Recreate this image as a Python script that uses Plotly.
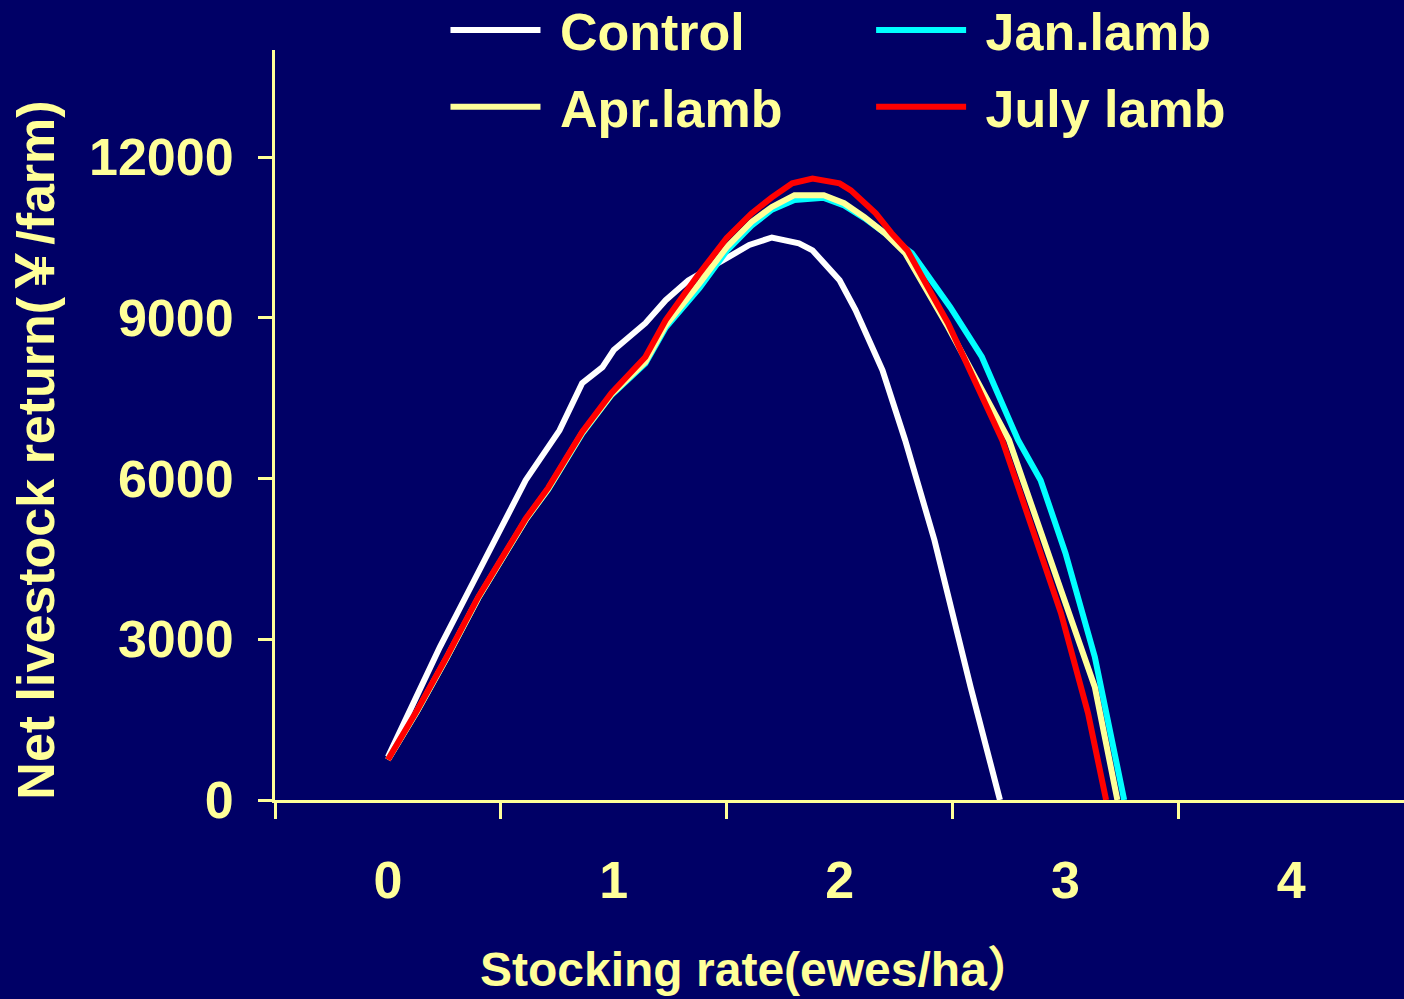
import plotly.graph_objects as go

# Net livestock return against stocking rate for four lambing systems
control_x = [0.00, 0.11, 0.23, 0.36, 0.48, 0.61, 0.76, 0.86, 0.95, 1.00, 1.14, 1.23, 1.33,
             1.50, 1.60, 1.70, 1.82, 1.88, 2.00, 2.07, 2.14, 2.19, 2.29, 2.42, 2.58, 2.71]
control_y = [800, 1810, 2855, 3920, 4910, 5970, 6900, 7780, 8080, 8400, 8900, 9330, 9700,
             10130, 10360, 10500, 10390, 10260, 9700, 9150, 8500, 8020, 6720, 4850, 2110, 0]

jan_x = [0.00, 0.13, 0.26, 0.40, 0.61, 0.71, 0.86, 0.99, 1.14, 1.23, 1.38, 1.50, 1.61, 1.70,
         1.80, 1.93, 2.02, 2.11, 2.20, 2.32, 2.49, 2.63, 2.79, 2.89, 3.00, 3.13, 3.26]
jan_y = [750, 1660, 2650, 3770, 5230, 5800, 6840, 7560, 8150, 8820, 9560, 10250, 10720, 11020,
         11200, 11240, 11100, 10860, 10580, 10210, 9200, 8270, 6720, 5970, 4610, 2670, 0]

apr_x = [0.00, 0.13, 0.26, 0.40, 0.61, 0.71, 0.86, 0.99, 1.14, 1.23, 1.38, 1.50, 1.61, 1.70,
         1.80, 1.93, 2.02, 2.11, 2.20, 2.29, 2.48, 2.75, 2.98, 3.13, 3.23]
apr_y = [750, 1660, 2650, 3770, 5230, 5810, 6850, 7570, 8180, 8860, 9650, 10320, 10790, 11070,
         11290, 11290, 11140, 10880, 10580, 10210, 8830, 6720, 3920, 2110, 0]

july_x = [0.00, 0.13, 0.26, 0.40, 0.61, 0.71, 0.86, 0.99, 1.14, 1.23, 1.37, 1.50, 1.61, 1.70,
          1.79, 1.88, 2.00, 2.05, 2.16, 2.23, 2.30, 2.48, 2.72, 2.98, 3.10, 3.18]
july_y = [750, 1680, 2670, 3790, 5250, 5830, 6870, 7600, 8270, 8960, 9780, 10490, 10950, 11250,
          11510, 11600, 11510, 11380, 10950, 10580, 10260, 8900, 6720, 3490, 1620, 0]

x_ticks = [0, 1, 2, 3, 4]
y_ticks = [0, 3000, 6000, 9000, 12000]
y_tick_text = ["0", "3000", "6000", "9000", "12000"]

BG = "#000066"
FG = "#FFFF99"
FONT = "Liberation Sans, Arial, Noto Sans CJK SC, sans-serif"
GAP = "\u00a0"  # small gap between legend line and label

series = [
    ("Control", control_x, control_y, "#FFFFFF", "legend"),
    ("Jan.lamb", jan_x, jan_y, "#00FFFF", "legend2"),
    ("Apr.lamb", apr_x, apr_y, "#FFFF99", "legend"),
    ("July lamb", july_x, july_y, "#FF0000", "legend2"),
]

fig = go.Figure()
for name, xs, ys, color, lg in series:
    fig.add_trace(go.Scatter(
        x=xs, y=ys, mode="lines", name=GAP + name,
        line=dict(color=color, width=6),
        legend=lg, legendgroup=name,
    ))

legend_style = dict(
    font=dict(family=FONT, size=52, color=FG, weight="bold"),
    bgcolor="rgba(0,0,0,0)", borderwidth=0,
    orientation="v", itemwidth=90, traceorder="grouped",
    tracegroupgap=6, xanchor="left", yanchor="top", y=1.0803,
)

fig.update_layout(
    width=1404, height=999,
    paper_bgcolor=BG, plot_bgcolor=BG,
    margin=dict(l=275, r=0, t=50, b=199, pad=0, autoexpand=False),
    showlegend=True,
    legend=dict(x=0.151, **legend_style),
    legend2=dict(x=0.528, **legend_style),
    xaxis=dict(
        range=[-0.5, 4.499], tickmode="array", tickvals=x_ticks,
        ticks="", showline=True, linecolor=FG, linewidth=3,
        showgrid=False, zeroline=False,
        tickfont=dict(family=FONT, size=52, color=FG, weight="bold"),
        ticklabelstandoff=33,
        minor=dict(ticks="outside", ticklen=16, tickwidth=3, tickcolor=FG,
                   tick0=-0.5, dtick=1, showgrid=False),
    ),
    yaxis=dict(
        range=[0, 14000], tickmode="array", tickvals=y_ticks, ticktext=y_tick_text,
        ticks="outside", ticklen=14, tickwidth=3, tickcolor=FG,
        showline=True, linecolor=FG, linewidth=3,
        showgrid=False, zeroline=False,
        tickfont=dict(family=FONT, size=52, color=FG, weight="bold"),
        ticklabelstandoff=14,
    ),
    annotations=[
        dict(text="Stocking rate(ewes/ha）", xref="paper", yref="paper",
             x=0.427, y=-0.226, xanchor="center", yanchor="middle", showarrow=False,
             font=dict(family=FONT, size=48, color=FG, weight="bold")),
        dict(text="Net livestock return(￥/farm)", xref="paper", yref="paper",
             x=-0.212, y=0.4667, xanchor="center", yanchor="middle", showarrow=False,
             textangle=-90,
             font=dict(family=FONT, size=52, color=FG, weight="bold")),
    ],
)

fig.write_html("out.html")
